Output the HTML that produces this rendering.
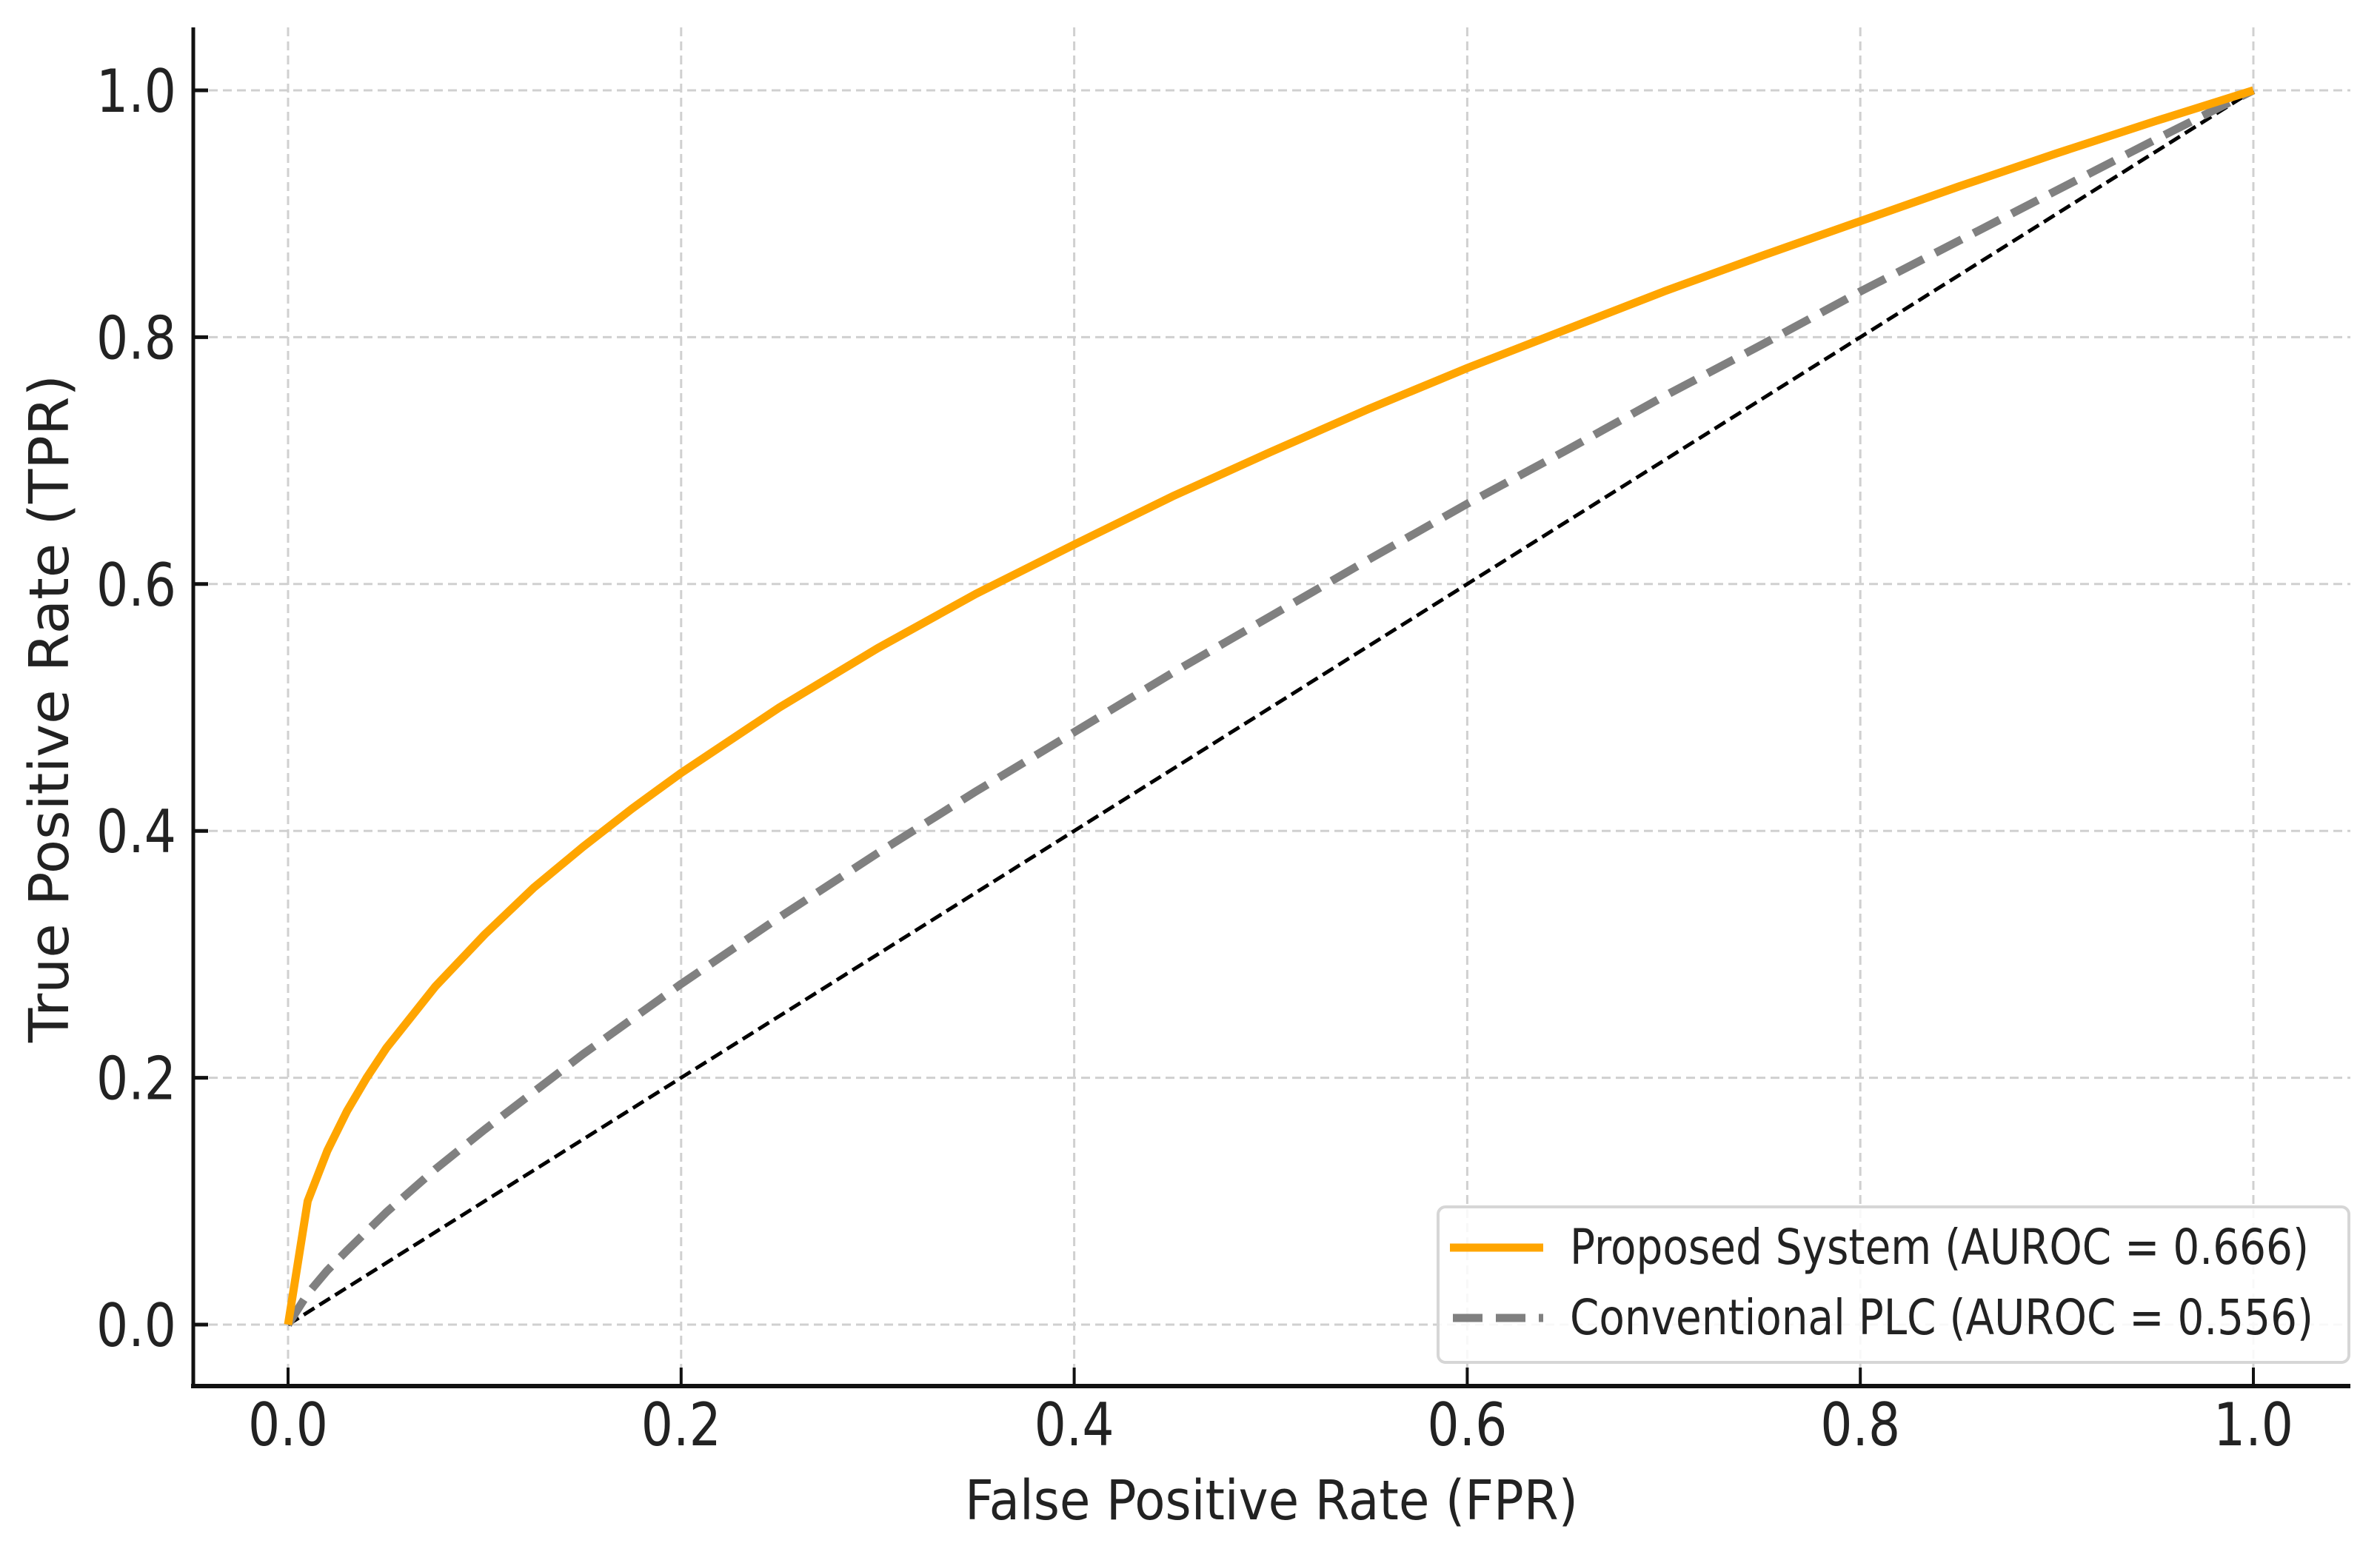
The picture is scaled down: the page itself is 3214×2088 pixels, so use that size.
<!DOCTYPE html>
<html><head><meta charset="utf-8"><style>
html,body{margin:0;padding:0;background:#fff;}
svg{display:block;}
text{font-family:"DejaVu Sans","Liberation Sans",sans-serif;fill:#222;}
</style></head><body>
<svg id="chart" width="3214" height="2088" viewBox="0 0 3214 2088" xmlns="http://www.w3.org/2000/svg">
<g id="grid"></g>
<g id="ticks"></g>
<g id="series"></g>
<line x1="261" y1="37" x2="261" y2="1873" stroke="#111" stroke-width="5"/>
<line x1="258" y1="1872" x2="3174" y2="1872" stroke="#111" stroke-width="6"/>
<text x="1717" y="2052" font-size="74" text-anchor="middle" textLength="828" lengthAdjust="spacingAndGlyphs">False Positive Rate (FPR)</text>
<text transform="translate(92,957) rotate(-90)" font-size="74" text-anchor="middle" textLength="902" lengthAdjust="spacingAndGlyphs">True Positive Rate (TPR)</text>
<g>
<rect x="1942" y="1630" width="1230" height="210" rx="10" fill="#fff" fill-opacity="0.85" stroke="#d6d6d6" stroke-width="4"/>
<line x1="1958" y1="1685" x2="2084" y2="1685" stroke="#FFA500" stroke-width="11"/>
<text x="2120" y="1707" font-size="66" textLength="998" lengthAdjust="spacingAndGlyphs">Proposed System (AUROC = 0.666)</text>
<line x1="1962" y1="1780" x2="2084" y2="1780" stroke="#808080" stroke-width="11" stroke-dasharray="40,18"/>
<text x="2120" y="1802" font-size="66" textLength="1004" lengthAdjust="spacingAndGlyphs">Conventional PLC (AUROC = 0.556)</text>
</g>
</svg>
<script>
const fprProposed = [0,0.01,0.02,0.03,0.04,0.05,0.075,0.1,0.125,0.15,0.175,0.2,0.25,0.3,0.35,0.4,0.45,0.5,0.55,0.6,0.65,0.7,0.75,0.8,0.85,0.9,0.95,1.0];
const tprProposed = [0,0.1,0.141,0.173,0.2,0.224,0.274,0.316,0.354,0.387,0.418,0.447,0.5,0.548,0.592,0.632,0.671,0.707,0.742,0.775,0.806,0.837,0.866,0.894,0.922,0.949,0.975,1.0];
const fprConventional = [0,0.01,0.02,0.03,0.05,0.075,0.1,0.15,0.2,0.25,0.3,0.35,0.4,0.45,0.5,0.55,0.6,0.65,0.7,0.75,0.8,0.85,0.9,0.95,1.0];
const tprConventional = [0,0.025,0.044,0.06,0.091,0.126,0.158,0.219,0.276,0.33,0.382,0.432,0.48,0.528,0.574,0.62,0.665,0.708,0.752,0.794,0.837,0.878,0.919,0.96,1.0];
const chanceX = [0,1];
const chanceY = [0,1];
const xTicks = [0,0.2,0.4,0.6,0.8,1.0];
const yTicks = [0,0.2,0.4,0.6,0.8,1.0];
const xTickLabels = ["0.0","0.2","0.4","0.6","0.8","1.0"];
const yTickLabels = ["0.0","0.2","0.4","0.6","0.8","1.0"];

const NS = "http://www.w3.org/2000/svg";
const X0 = 389, X1 = 3043, Y0 = 1789, Y1 = 122;
function sx(v){ return X0 + v*(X1-X0); }
function sy(v){ return Y0 - v*(Y0-Y1); }
function mk(tag, attrs, parent){
  const e = document.createElementNS(NS, tag);
  for (const k in attrs) e.setAttribute(k, attrs[k]);
  parent.appendChild(e);
  return e;
}
const grid = document.getElementById('grid');
const ticks = document.getElementById('ticks');
const series = document.getElementById('series');

xTicks.forEach((v,i)=>{
  const g = mk('line',{x1:sx(v),y1:37,x2:sx(v),y2:1870,stroke:'#d0d0d0','stroke-width':3,'stroke-dasharray':'12,7'},grid);
  
  
  const t = mk('line',{x1:sx(v),y1:1870,x2:sx(v),y2:1847,stroke:'#111','stroke-width':4},ticks);
  
  
  const l = mk('text',{x:sx(v),y:1952,'font-size':80,'text-anchor':'middle',textLength:108,lengthAdjust:'spacingAndGlyphs'},ticks);
  
  
  l.textContent = xTickLabels[i];
});
yTicks.forEach((v,i)=>{
  const g = mk('line',{x1:263,y1:sy(v),x2:3174,y2:sy(v),stroke:'#d0d0d0','stroke-width':3,'stroke-dasharray':'12,7'},grid);
  
  
  const t = mk('line',{x1:263,y1:sy(v),x2:281,y2:sy(v),stroke:'#111','stroke-width':5},ticks);
  
  
  const l = mk('text',{x:238,y:sy(v)+29,'font-size':80,'text-anchor':'end',textLength:108,lengthAdjust:'spacingAndGlyphs'},ticks);
  
  
  l.textContent = yTickLabels[i];
});
function pts(xs, ys){ return xs.map((x,i)=>sx(x).toFixed(1)+','+sy(ys[i]).toFixed(1)).join(' '); }

const chance = mk('polyline',{points:pts(chanceX,chanceY),fill:'none',stroke:'#000','stroke-width':5,'stroke-dasharray':'17,8'},series);


const conv = mk('polyline',{points:pts(fprConventional,tprConventional),fill:'none',stroke:'#808080','stroke-width':11,'stroke-dasharray':'40,18','stroke-linejoin':'round'},series);


const prop = mk('polyline',{points:pts(fprProposed,tprProposed),fill:'none',stroke:'#FFA500','stroke-width':11,'stroke-linejoin':'round'},series);


</script>
</body></html>
